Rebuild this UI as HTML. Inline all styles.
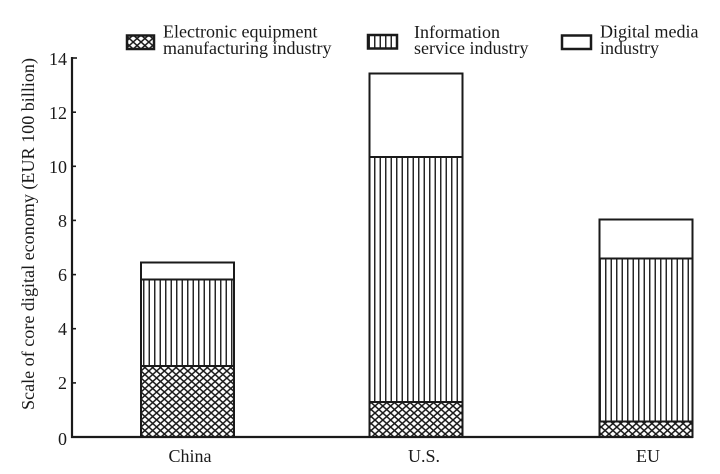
<!DOCTYPE html>
<html>
<head>
<meta charset="utf-8">
<style>
html,body{margin:0;padding:0;background:#fff;}
svg{display:block;}
text{font-family:"Liberation Serif",serif;fill:#1a1a1a;}
</style>
</head>
<body>
<svg width="720" height="474" viewBox="0 0 720 474" xmlns="http://www.w3.org/2000/svg">
<defs>
<pattern id="cross" patternUnits="userSpaceOnUse" width="7.8" height="7" x="141" y="0">
<rect width="7.8" height="7" fill="#fff"/>
<path d="M0,0 L7.8,7 M7.8,0 L0,7 M-3.9,3.5 L0,7 M3.9,-3.5 L11.7,3.5" stroke="#1a1a1a" stroke-width="1.5" fill="none"/>
</pattern>
<pattern id="vlines" patternUnits="userSpaceOnUse" width="5.5" height="10" x="141" y="0">
<rect width="5.5" height="10" fill="#fff"/>
<line x1="2.75" y1="0" x2="2.75" y2="10" stroke="#1a1a1a" stroke-width="1.4"/>
</pattern>
</defs>

<!-- Legend -->
<rect x="127" y="35.5" width="27" height="13.5" fill="url(#cross)" stroke="#1a1a1a" stroke-width="2.5"/>
<text x="163" y="37.5" font-size="18">Electronic equipment</text>
<text x="163" y="54" font-size="18">manufacturing industry</text>

<rect x="368" y="35" width="29" height="13.5" fill="url(#vlines)" stroke="#1a1a1a" stroke-width="2.5"/>
<text x="414" y="38" font-size="18">Information</text>
<text x="414" y="54" font-size="18">service industry</text>

<rect x="562" y="35.5" width="29" height="13.5" fill="#fff" stroke="#1a1a1a" stroke-width="2.5"/>
<text x="600" y="37.5" font-size="18">Digital media</text>
<text x="600" y="54" font-size="18">industry</text>

<!-- Y axis label -->
<text transform="translate(34,234) rotate(-90)" text-anchor="middle" font-size="18" textLength="352" lengthAdjust="spacingAndGlyphs">Scale of core digital economy (EUR 100 billion)</text>

<!-- Bars: China -->
<rect x="141" y="366" width="93" height="71" fill="url(#cross)" stroke="#1a1a1a" stroke-width="2"/>
<rect x="141" y="279.5" width="93" height="86.5" fill="url(#vlines)" stroke="#1a1a1a" stroke-width="2"/>
<rect x="141" y="262.5" width="93" height="17" fill="#fff" stroke="#1a1a1a" stroke-width="2"/>

<!-- Bars: U.S. -->
<rect x="369.5" y="402" width="93" height="35" fill="url(#cross)" stroke="#1a1a1a" stroke-width="2"/>
<rect x="369.5" y="157" width="93" height="245" fill="url(#vlines)" stroke="#1a1a1a" stroke-width="2"/>
<rect x="369.5" y="73.5" width="93" height="83.5" fill="#fff" stroke="#1a1a1a" stroke-width="2"/>

<!-- Bars: EU -->
<rect x="599.5" y="421.5" width="93" height="15.5" fill="url(#cross)" stroke="#1a1a1a" stroke-width="2"/>
<rect x="599.5" y="258.5" width="93" height="163" fill="url(#vlines)" stroke="#1a1a1a" stroke-width="2"/>
<rect x="599.5" y="219.5" width="93" height="39" fill="#fff" stroke="#1a1a1a" stroke-width="2"/>

<!-- Axes -->
<line x1="72" y1="57" x2="72" y2="438" stroke="#1a1a1a" stroke-width="2.2"/>
<line x1="71" y1="437" x2="693" y2="437" stroke="#1a1a1a" stroke-width="2.2"/>

<!-- Ticks -->
<g stroke="#1a1a1a" stroke-width="1.6">
<line x1="72" y1="58" x2="77" y2="58"/>
<line x1="72" y1="112.2" x2="76" y2="112.2"/>
<line x1="72" y1="166.3" x2="76" y2="166.3"/>
<line x1="72" y1="220.4" x2="76" y2="220.4"/>
<line x1="72" y1="274.6" x2="76" y2="274.6"/>
<line x1="72" y1="328.7" x2="76" y2="328.7"/>
<line x1="72" y1="382.9" x2="76" y2="382.9"/>
</g>

<!-- Tick labels -->
<g font-size="18" text-anchor="end">
<text x="67" y="65">14</text>
<text x="67" y="119">12</text>
<text x="67" y="173">10</text>
<text x="67" y="227">8</text>
<text x="67" y="281">6</text>
<text x="67" y="335">4</text>
<text x="67" y="389">2</text>
<text x="67" y="445">0</text>
</g>

<!-- Category labels -->
<g font-size="18" text-anchor="middle">
<text x="190" y="462">China</text>
<text x="424" y="462">U.S.</text>
<text x="648" y="462">EU</text>
</g>
</svg>
</body>
</html>
